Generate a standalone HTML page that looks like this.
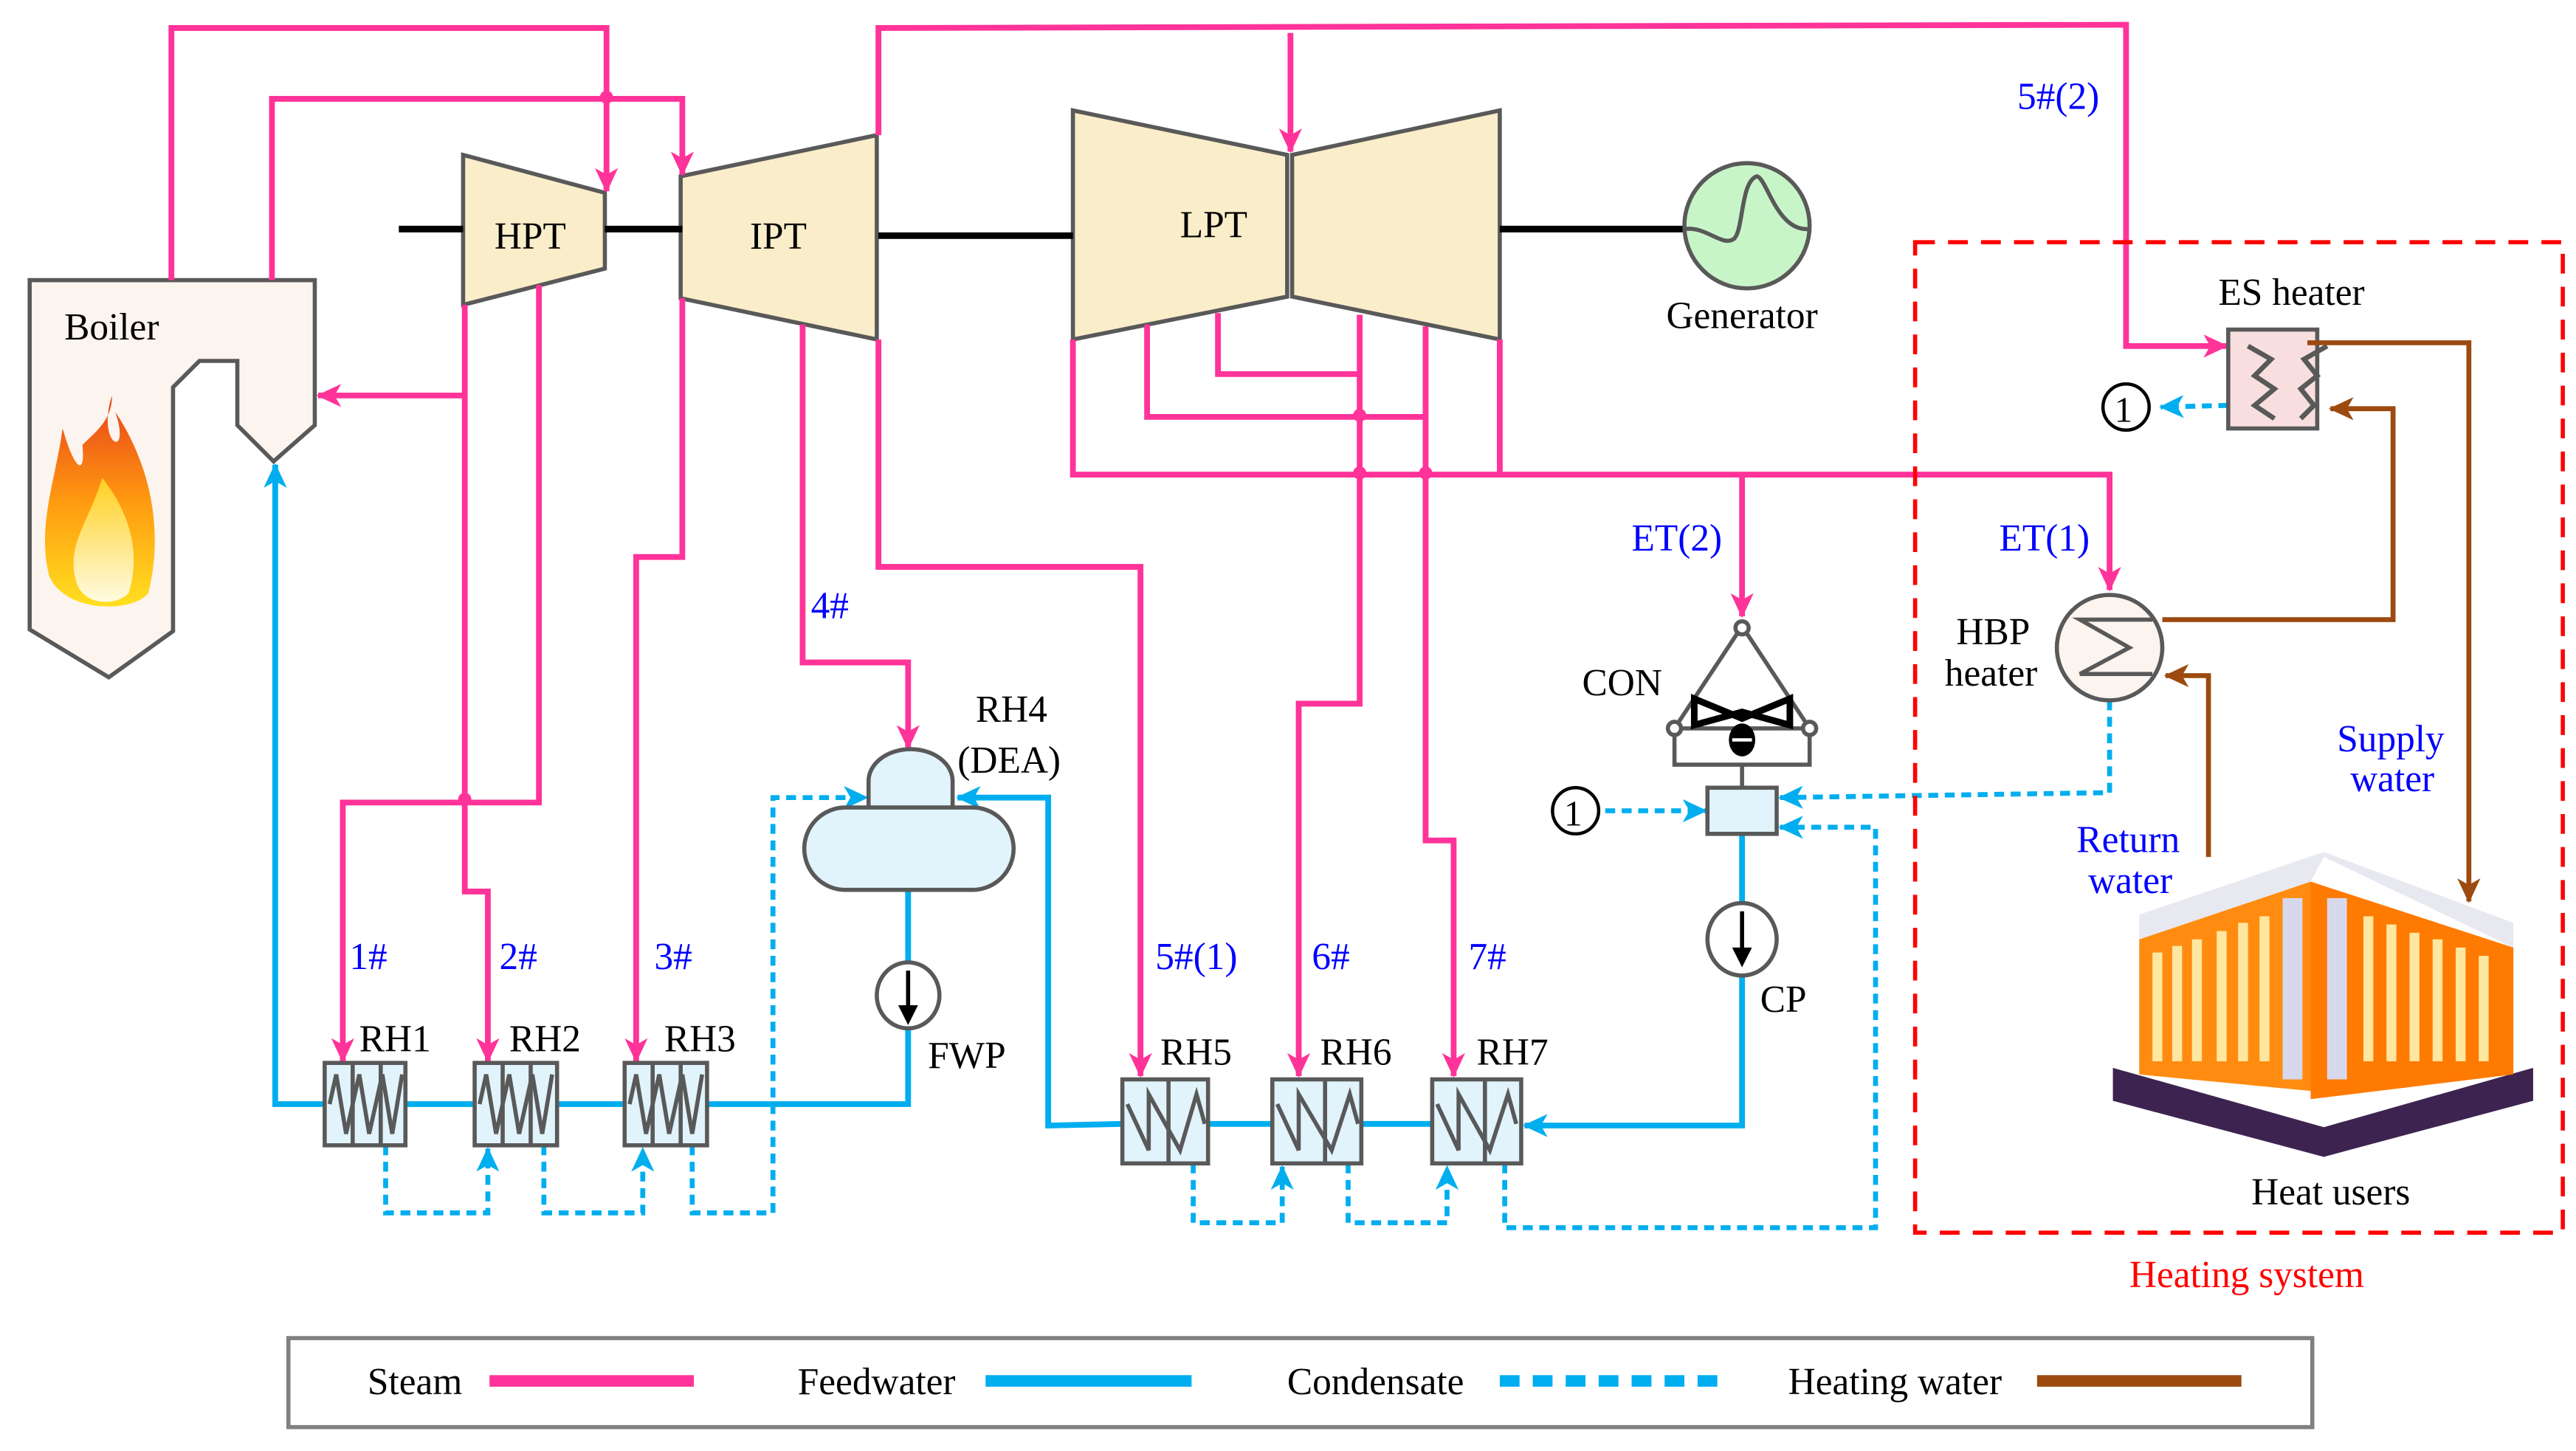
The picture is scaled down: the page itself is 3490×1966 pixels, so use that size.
<!DOCTYPE html>
<html><head><meta charset="utf-8"><style>
html,body{margin:0;padding:0;background:#fff;width:3490px;height:1966px;overflow:hidden}
svg{display:block}
text{font-family:"Liberation Serif",serif;font-size:23px;fill:#000}
.b{fill:#0000ff}
</style></head><body>
<svg width="3490" height="1966" viewBox="0 0 1563 880.5" preserveAspectRatio="none" xmlns="http://www.w3.org/2000/svg">
<defs>
<marker id="ap" markerUnits="userSpaceOnUse" markerWidth="16" markerHeight="14" refX="14" refY="7" orient="auto"><path d="M0,0 L15,7 L0,14 L4,7 z" fill="#ff3399"/></marker>
<marker id="ab" markerUnits="userSpaceOnUse" markerWidth="16" markerHeight="14" refX="14" refY="7" orient="auto"><path d="M0,0 L15,7 L0,14 L4,7 z" fill="#00aeef"/></marker>
<marker id="ar" markerUnits="userSpaceOnUse" markerWidth="16" markerHeight="14" refX="14" refY="7" orient="auto"><path d="M0,0 L15,7 L0,14 L4,7 z" fill="#9c4a0f"/></marker>
<linearGradient id="fl" x1="0" y1="0" x2="0" y2="1"><stop offset="0" stop-color="#e8401a"/><stop offset="0.5" stop-color="#ff9a10"/><stop offset="1" stop-color="#ffe020"/></linearGradient>
<linearGradient id="fl2" x1="0" y1="0" x2="0" y2="1"><stop offset="0" stop-color="#ffd020"/><stop offset="1" stop-color="#fffbe0"/></linearGradient>
</defs>

<polygon points="18,170 191,170 191,258 166,280 144,258 144,219 121,219 105,235 105,383 66,411 18,382" fill="#fcf4ef" stroke="#595959" stroke-width="2.5"/>
<text x="39" y="206">Boiler</text>
<path d="M68,240 C58,270 80,280 70,250 C90,280 100,320 90,360 C80,372 40,372 30,350 C22,320 34,290 38,260 C45,285 52,290 50,270 C58,262 68,255 68,240 z" fill="url(#fl)"/>
<path d="M62,290 C78,310 86,335 78,360 C70,368 50,368 46,352 C40,330 55,315 62,290 z" fill="url(#fl2)"/>

<polygon points="281,94 367,117 367,163 281,185" fill="#faedc9" stroke="#595959" stroke-width="2.5"/>
<polygon points="413,107 532,82 532,206 413,181" fill="#faedc9" stroke="#595959" stroke-width="2.5"/>
<polygon points="651,67 781,94 781,180 651,206" fill="#faedc9" stroke="#595959" stroke-width="2.5"/>
<polygon points="784,94 910,67 910,206 784,180" fill="#faedc9" stroke="#595959" stroke-width="2.5"/>
<g stroke="#000" stroke-width="4"><line x1="242" y1="139" x2="281" y2="139"/><line x1="367" y1="139" x2="414" y2="139"/><line x1="533" y1="143" x2="651" y2="143"/><line x1="910" y1="139" x2="1022" y2="139"/></g>
<text x="300" y="151">HPT</text><text x="455" y="151">IPT</text><text x="716" y="144">LPT</text>
<ellipse cx="1060" cy="137" rx="38" ry="38" fill="#c8f5c8" stroke="#595959" stroke-width="2.5"/>
<path d="M1022,139 C1035,137 1045,150 1052,145 C1058,140 1056,110 1066,107 C1072,108 1078,140 1097,139" fill="none" stroke="#595959" stroke-width="2.5"/>
<text x="1011" y="199">Generator</text>

<g fill="none" stroke="#ff3399" stroke-width="3.5">
<polyline points="104,170 104,17 368,17 368,116" marker-end="url(#ap)"/>
<polyline points="165,170 165,60 414,60 414,106" marker-end="url(#ap)"/>
<polyline points="533,82 533,17 1290,15 1290,210 1351,210" marker-end="url(#ap)"/>
<polyline points="783,20 783,92" marker-end="url(#ap)"/>
<polyline points="282,240 193,240" marker-end="url(#ap)"/>
<polyline points="282,185 282,541 296,541 296,644" marker-end="url(#ap)"/>
<polyline points="327,173 327,487 208,487 208,644" marker-end="url(#ap)"/>
<polyline points="414,181 414,338 386,338 386,644" marker-end="url(#ap)"/>
<polyline points="487,197 487,402 551,402 551,454" marker-end="url(#ap)"/>
<polyline points="533,206 533,344 692,344 692,653" marker-end="url(#ap)"/>
<polyline points="739,190 739,227 825,227"/>
<polyline points="696,197 696,253 865,253"/>
<polyline points="825,191 825,427 788,427 788,653" marker-end="url(#ap)"/>
<polyline points="865,198 865,510 882,510 882,653" marker-end="url(#ap)"/>
<polyline points="651,206 651,288 1280,288 1280,358" marker-end="url(#ap)"/>
<polyline points="910,206 910,288"/>
<polyline points="1057,288 1057,374" marker-end="url(#ap)"/>
</g>
<g fill="#ff3399"><circle cx="368" cy="59" r="4"/><circle cx="282" cy="485" r="4"/><circle cx="825" cy="252" r="4"/><circle cx="825" cy="287" r="4"/><circle cx="865" cy="287" r="4"/></g>
<text class="b" x="1224" y="66">5#(2)</text>
<text class="b" x="492" y="375">4#</text>
<text class="b" x="212" y="588">1#</text><text class="b" x="303" y="588">2#</text><text class="b" x="397" y="588">3#</text>
<text class="b" x="701" y="588">5#(1)</text><text class="b" x="796" y="588">6#</text><text class="b" x="891" y="588">7#</text>
<text class="b" x="990" y="334">ET(2)</text><text class="b" x="1213" y="334">ET(1)</text>

<g fill="none" stroke="#00aeef" stroke-width="3.5">
<polyline points="197,670 167,670 167,282" marker-end="url(#ab)"/>
<line x1="246" y1="670" x2="288" y2="670"/><line x1="338" y1="670" x2="379" y2="670"/>
<polyline points="429,670 551,670 551,623"/>
<line x1="551" y1="585" x2="551" y2="540"/>
<polyline points="681,682 636,683 636,484 581,484" marker-end="url(#ab)"/>
<line x1="733" y1="682" x2="772" y2="682"/><line x1="826" y1="682" x2="869" y2="682"/>
<polyline points="1057,591 1057,683 925,683" marker-end="url(#ab)"/>
<line x1="1057" y1="506" x2="1057" y2="549"/>
</g>

<g fill="none" stroke="#00aeef" stroke-width="3" stroke-dasharray="6,4">
<polyline points="234,695 234,736 296,736 296,697" marker-end="url(#ab)"/>
<polyline points="330,695 330,736 390,736 390,697" marker-end="url(#ab)"/>
<polyline points="420,695 420,736 469,736 469,484 526,484" marker-end="url(#ab)"/>
<polyline points="724,706 724,742 778,742 778,708" marker-end="url(#ab)"/>
<polyline points="818,706 818,742 878,742 878,708" marker-end="url(#ab)"/>
<polyline points="913,706 913,745 1138,745 1138,502 1080,502" marker-end="url(#ab)"/>
<polyline points="1280,425 1280,481 1080,484" marker-end="url(#ab)"/>
<polyline points="974,492 1035,492" marker-end="url(#ab)"/>
<polyline points="1352,246 1311,247" marker-end="url(#ab)"/>
</g>
<circle cx="956" cy="492" r="14" fill="#fff" stroke="#000" stroke-width="2"/><text x="949" y="501" style="font-size:22px">1</text>
<circle cx="1290" cy="247" r="14" fill="#fff" stroke="#000" stroke-width="2"/><text x="1283" y="256" style="font-size:22px">1</text>

<g stroke="#595959" stroke-width="2.5" fill="#e1f3fb">
<rect x="197" y="645" width="49" height="50"/><rect x="288" y="645" width="50" height="50"/><rect x="379" y="645" width="50" height="50"/>
<rect x="681" y="655" width="52" height="51"/><rect x="772" y="655" width="54" height="51"/><rect x="869" y="655" width="54" height="51"/>
</g>
<g stroke="#595959" stroke-width="2.5" fill="none">
<path d="M214,645 V695 M231,645 V695 M305,645 V695 M322,645 V695 M396,645 V695 M413,645 V695"/>
<path d="M200,670 L204,652 L210,688 L218,652 L224,688 L232,652 L238,688 L244,652"/>
<path d="M291,670 L295,652 L301,688 L309,652 L315,688 L323,652 L329,688 L335,652"/>
<path d="M382,670 L386,652 L392,688 L400,652 L406,688 L414,652 L420,688 L426,652"/>
<path d="M709,655 V706 M804,655 V706 M901,655 V706"/>
<path d="M684,670 L697,698 L697,664 L716,698 L726,664 L731,682"/>
<path d="M775,670 L788,698 L788,664 L808,698 L819,664 L824,682"/>
<path d="M872,670 L885,698 L885,664 L904,698 L915,664 L920,682"/>
</g>
<text x="218" y="638">RH1</text><text x="309" y="638">RH2</text><text x="403" y="638">RH3</text>
<text x="704" y="646">RH5</text><text x="801" y="646">RH6</text><text x="896" y="646">RH7</text>

<path d="M527,490 V474 A25,19 0 0 1 578,474 V490" fill="#e1f3fb" stroke="#595959" stroke-width="2.5"/>
<rect x="488" y="490" width="127" height="50" rx="25" ry="25" fill="#e1f3fb" stroke="#595959" stroke-width="2.5"/>
<text x="592" y="438">RH4</text><text x="581" y="469">(DEA)</text>
<ellipse cx="551" cy="604" rx="19" ry="20" fill="#fff" stroke="#595959" stroke-width="2.5"/>
<line x1="551" y1="589" x2="551" y2="612" stroke="#000" stroke-width="2.5"/><path d="M545,610 L551,622 L557,610 z" fill="#000"/>
<text x="563" y="648">FWP</text>

<g stroke="#595959" stroke-width="2.5" fill="#fff">
<polygon points="1057,380 1016,442 1098,442"/>
<polyline points="1016,442 1016,464 1098,464 1098,442" fill="none"/>
<line x1="1057" y1="464" x2="1057" y2="478"/>
<rect x="1036" y="478" width="42" height="28" fill="#e1f3fb"/>
<circle cx="1057" cy="381" r="4"/><circle cx="1016" cy="442" r="4"/><circle cx="1098" cy="442" r="4"/>
</g>
<path d="M1028,424 L1057,436 L1086,424 L1086,440 L1057,432 L1028,440 z" fill="none" stroke="#000" stroke-width="4"/>
<ellipse cx="1057" cy="449" rx="8" ry="10" fill="#000"/><line x1="1051" y1="449" x2="1063" y2="449" stroke="#fff" stroke-width="2"/>
<text x="960" y="422">CON</text>
<ellipse cx="1057" cy="570" rx="21" ry="22" fill="#fff" stroke="#595959" stroke-width="2.5"/>
<line x1="1057" y1="553" x2="1057" y2="577" stroke="#000" stroke-width="2.5"/><path d="M1051,575 L1057,587 L1063,575 z" fill="#000"/>
<text x="1068" y="614">CP</text>

<rect x="1162" y="147" width="393" height="601" fill="none" stroke="#ff0000" stroke-width="2.5" stroke-dasharray="12,8"/>
<text x="1292" y="781" style="fill:#ff0000">Heating system</text>
<rect x="1352" y="200" width="54" height="60" fill="#f8dede" stroke="#595959" stroke-width="2.5"/>
<path d="M1364,210 L1378,218 L1368,228 L1380,236 L1368,246 L1380,254 M1412,210 L1398,218 L1406,228 L1396,236 L1404,246 L1396,254" fill="none" stroke="#595959" stroke-width="3"/>
<text x="1346" y="185">ES heater</text>
<ellipse cx="1280" cy="393" rx="32" ry="32" fill="#fcf4ef" stroke="#595959" stroke-width="2.5"/>
<path d="M1306,376 H1262 L1292,393 L1262,409 H1306" fill="none" stroke="#595959" stroke-width="2.5"/>
<text x="1187" y="391">HBP</text><text x="1180" y="416">heater</text>
<g fill="none" stroke="#9c4a0f" stroke-width="3">
<polyline points="1400,208 1498,208 1498,547" marker-end="url(#ar)"/>
<polyline points="1312,376 1452,376 1452,248 1414,248" marker-end="url(#ar)"/>
<polyline points="1340,520 1340,410 1314,410" marker-end="url(#ar)"/>
</g>
<text class="b" x="1418" y="456">Supply</text><text class="b" x="1426" y="480">water</text>
<text class="b" x="1260" y="517">Return</text><text class="b" x="1267" y="542">water</text>

<polygon points="1282,648 1410,684 1537,648 1537,668 1410,702 1282,668" fill="#3d2450"/>
<polygon points="1298,570 1402,535 1402,662 1298,652" fill="#ff8c10"/>
<polygon points="1402,535 1525,575 1525,652 1402,667" fill="#ff7a00"/>
<polygon points="1298,570 1402,535 1410,520 1525,575 1525,560 1410,517 1298,555" fill="#e8e8f0"/>
<g fill="#ffe7a0">
<rect x="1306" y="578" width="6" height="66"/><rect x="1318" y="574" width="6" height="70"/><rect x="1330" y="570" width="6" height="74"/><rect x="1345" y="565" width="6" height="79"/><rect x="1358" y="560" width="6" height="84"/><rect x="1371" y="556" width="6" height="88"/>
<rect x="1434" y="556" width="6" height="88"/><rect x="1448" y="561" width="6" height="83"/><rect x="1462" y="566" width="6" height="78"/><rect x="1476" y="570" width="6" height="74"/><rect x="1490" y="575" width="6" height="69"/><rect x="1504" y="580" width="6" height="64"/>
</g>
<rect x="1385" y="545" width="12" height="110" fill="#d8d8ec"/><rect x="1412" y="545" width="12" height="110" fill="#d8d8ec"/>
<text x="1366" y="731">Heat users</text>

<rect x="175" y="812" width="1228" height="54" fill="none" stroke="#808080" stroke-width="2.5"/>
<text x="223" y="846">Steam</text><line x1="297" y1="838" x2="421" y2="838" stroke="#ff3399" stroke-width="7"/>
<text x="484" y="846">Feedwater</text><line x1="598" y1="838" x2="723" y2="838" stroke="#00aeef" stroke-width="7"/>
<text x="781" y="846">Condensate</text><line x1="910" y1="838" x2="1043" y2="838" stroke="#00aeef" stroke-width="7" stroke-dasharray="12,8"/>
<text x="1085" y="846">Heating water</text><line x1="1236" y1="838" x2="1360" y2="838" stroke="#9c4a0f" stroke-width="7"/>
</svg>
</body></html>
